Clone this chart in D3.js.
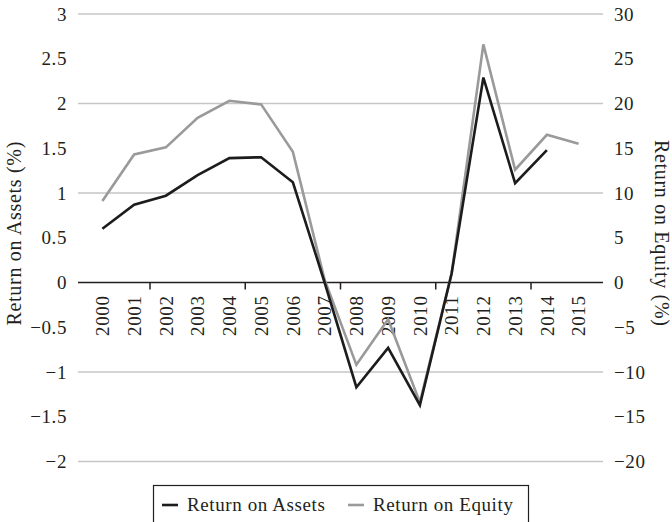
<!DOCTYPE html>
<html><head><meta charset="utf-8">
<script src="https://cdn.jsdelivr.net/npm/d3@7/dist/d3.min.js"></script>
<style>
html,body{margin:0;padding:0;background:#fff;}
text{font-family:"Liberation Serif","Times New Roman",serif;fill:#231f20;}
</style></head><body>
<svg id="c" width="672" height="522"></svg>
<script>
const years = ["2000","2001","2002","2003","2004","2005","2006","2007","2008","2009","2010","2011","2012","2013","2014","2015"];
const roa = [0.60,0.87,0.97,1.20,1.39,1.40,1.12,0.00,-1.17,-0.73,-1.37,0.10,2.29,1.11,1.48,null];
const roe = [9.1,14.3,15.1,18.4,20.3,19.9,14.6,0.3,-9.2,-4.1,-13.4,1.0,26.6,12.6,16.5,15.5];
const leftTicks = [3,2.5,2,1.5,1,0.5,0,-0.5,-1,-1.5,-2];
const rightTicks = [30,25,20,15,10,5,0,-5,-10,-15,-20];
const gridVals = [3,2,1,-1,-2];
const seriesNames = ["Return on Assets","Return on Equity"];

const FS = 19, LS = "0.6px";
const svg = d3.select("#c");
const x = d3.scaleBand().domain(years).range([86.5,594.5]);
const yL = d3.scaleLinear().domain([-2,3]).range([461.5,14]);
const yR = d3.scaleLinear().domain([-20,30]).range([461.5,14]);
const gx0 = 78, gx1 = 603;
const cx = d => x(d)+x.bandwidth()/2;
const fmt = v => (v<0?"\u2212":"")+Math.abs(v);

// gridlines
svg.append("g").selectAll("line").data(gridVals).join("line")
  .attr("x1",gx0).attr("x2",gx1).attr("y1",d=>yL(d)).attr("y2",d=>yL(d))
  .attr("stroke","#c6c6c6").attr("stroke-width",1.5);

// left tick labels
svg.append("g").selectAll("text").data(leftTicks).join("text")
  .attr("x",67).attr("y",d=>yL(d)).attr("dy","0.35em").attr("text-anchor","end")
  .style("font-size",FS+"px").style("letter-spacing",LS).text(fmt);
// right tick labels
svg.append("g").selectAll("text").data(rightTicks).join("text")
  .attr("x",614).attr("y",d=>yR(d)).attr("dy","0.35em").attr("text-anchor","start")
  .style("font-size",FS+"px").style("letter-spacing",LS).text(fmt);

// axis titles
svg.append("text").attr("transform",`translate(21,${yL(0.55)}) rotate(-90)`)
  .attr("text-anchor","middle").style("font-size","20px").style("letter-spacing","0.7px").text("Return on Assets (%)");
svg.append("text").attr("transform",`translate(655,${yL(0.55)}) rotate(90)`)
  .attr("text-anchor","middle").style("font-size","20px").style("letter-spacing","0.7px").text("Return on Equity (%)");

// zero axis
svg.append("line").attr("x1",gx0).attr("x2",gx1).attr("y1",yL(0)).attr("y2",yL(0))
  .attr("stroke","#231f20").attr("stroke-width",1.5);
// category ticks every 3 categories at band boundaries
const tickIdx = [2,5,8,11,14];
svg.append("g").selectAll("line").data(tickIdx).join("line")
  .attr("x1",i=>x(years[i])).attr("x2",i=>x(years[i]))
  .attr("y1",yL(0)).attr("y2",yL(0)+7).attr("stroke","#231f20").attr("stroke-width",1.5);

// year labels
svg.append("g").selectAll("text").data(years).join("text")
  .attr("transform",d=>`translate(${cx(d)},${yL(0)+13}) rotate(-90)`)
  .attr("text-anchor","end").attr("dy","0.35em")
  .style("font-size",FS+"px").style("letter-spacing",LS).text(d=>d);

// lines
const lineL = d3.line().defined(d=>d.v!=null).x(d=>cx(d.y)).y(d=>yL(d.v));
const lineR = d3.line().defined(d=>d.v!=null).x(d=>cx(d.y)).y(d=>yR(d.v));
svg.append("path").datum(years.map((y,i)=>({y,v:roe[i]})))
  .attr("d",lineR).attr("fill","none").attr("stroke","#9a9a9a").attr("stroke-width",2.6).attr("stroke-linejoin","miter");
svg.append("path").datum(years.map((y,i)=>({y,v:roa[i]})))
  .attr("d",lineL).attr("fill","none").attr("stroke","#1c1c1c").attr("stroke-width",2.6).attr("stroke-linejoin","miter");

// legend
const lg = svg.append("g");
lg.append("rect").attr("x",153.5).attr("y",485.5).attr("width",375).attr("height",50)
  .attr("fill","none").attr("stroke","#231f20").attr("stroke-width",1.2);
const items = [{n:seriesNames[0],c:"#1c1c1c",x0:162,tx:187},{n:seriesNames[1],c:"#9a9a9a",x0:348,tx:373}];
items.forEach(it=>{
  lg.append("line").attr("x1",it.x0).attr("x2",it.x0+16).attr("y1",505).attr("y2",505)
    .attr("stroke",it.c).attr("stroke-width",2.6);
  lg.append("text").attr("x",it.tx).attr("y",511).style("font-size",FS+"px").style("letter-spacing",LS).text(it.n);
});
</script></body></html>
